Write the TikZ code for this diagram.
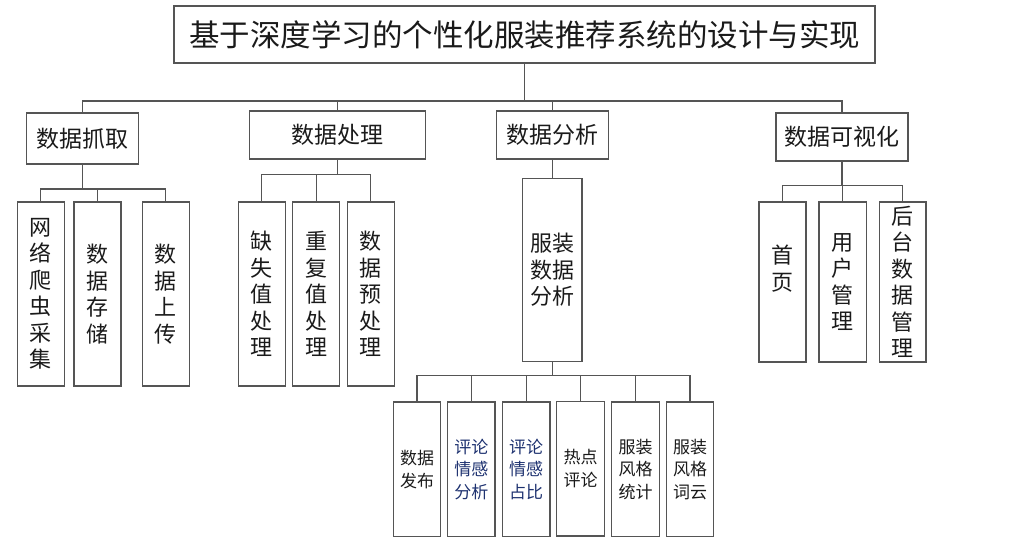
\documentclass[tikz,border=0pt]{standalone}
\usepackage{fontspec}
\setmainfont{Noto Sans CJK SC}
\definecolor{linec}{HTML}{555555}
\definecolor{navy}{HTML}{1E3270}
\definecolor{txt}{HTML}{1A1A1A}
\tikzset{
  box/.style={draw=linec, line width=1.2pt, inner sep=0pt, align=center, text=txt},
  ttl/.style={box, font=\fontsize{30.5}{34}\selectfont},
  lone/.style={box, font=\fontsize{23}{27}\selectfont},
  ltwo/.style={box, font=\fontsize{22}{26.5}\selectfont},
  lthree/.style={box, font=\fontsize{17}{22.5}\selectfont},
  conn/.style={draw=linec, line width=1.2pt},
}
\begin{document}
\begin{tikzpicture}[x=1pt,y=-1pt]
\useasboundingbox (0,0) rectangle (1028,552);
% title
\node[ttl, minimum width=701pt, minimum height=57pt] (title) at (524.5,34.5) {基于深度学习的个性化服装推荐系统的设计与实现};
% level 1
\node[lone, minimum width=112pt, minimum height=51pt] (a) at (82.3,138.5) {数据抓取};
\node[lone, minimum width=176pt, minimum height=48pt] (b) at (337.3,135) {数据处理};
\node[lone, minimum width=112pt, minimum height=48pt] (c) at (552.2,135) {数据分析};
\node[lone, minimum width=132pt, minimum height=48pt] (d) at (842,137) {数据可视化};
% level 2 under a
\node[ltwo, minimum width=47pt, minimum height=184pt] (a1) at (40.8,294) {网\\络\\爬\\虫\\采\\集};
\node[ltwo, minimum width=47pt, minimum height=184pt] (a2) at (97.4,294) {数\\据\\存\\储};
\node[ltwo, minimum width=47pt, minimum height=184pt] (a3) at (165.7,294) {数\\据\\上\\传};
% level 2 under b
\node[ltwo, minimum width=47pt, minimum height=184pt] (b1) at (261.7,294) {缺\\失\\值\\处\\理};
\node[ltwo, minimum width=47pt, minimum height=184pt] (b2) at (316.2,294) {重\\复\\值\\处\\理};
\node[ltwo, minimum width=47pt, minimum height=184pt] (b3) at (370.8,294) {数\\据\\预\\处\\理};
% level 2 under c
\node[ltwo, minimum width=59.7pt, minimum height=183.4pt] (c1) at (552.2,270) {服装\\数据\\分析};
% level 3 under c1
\node[lthree, minimum width=47.4pt, minimum height=134.5pt] (e1) at (417,469.3) {数据\\发布};
\node[lthree, minimum width=47.4pt, minimum height=134.5pt, text=navy] (e2) at (471.3,469.3) {评论\\情感\\分析};
\node[lthree, minimum width=47.4pt, minimum height=134.5pt, text=navy] (e3) at (526.2,469.3) {评论\\情感\\占比};
\node[lthree, minimum width=47.4pt, minimum height=134.5pt] (e4) at (580.5,468.7) {热点\\评论};
\node[lthree, minimum width=47.4pt, minimum height=134.5pt] (e5) at (635.5,469.3) {服装\\风格\\统计};
\node[lthree, minimum width=47.4pt, minimum height=134.5pt] (e6) at (690,469.3) {服装\\风格\\词云};
% level 2 under d
\node[ltwo, minimum width=47pt, minimum height=160pt] (d1) at (782.5,282) {首\\页\\\phantom{页}};
\node[ltwo, minimum width=47.7pt, minimum height=160pt] (d2) at (842.8,282) {用\\户\\管\\理};
\node[ltwo, minimum width=46.7pt, minimum height=160pt] (d3) at (902.7,282) {后\\台\\数\\据\\管\\理};
% bus coordinates
\coordinate (bus0) at (0,101);
\coordinate (busa) at (0,189);
\coordinate (busb) at (0,174.3);
\coordinate (busc) at (0,375.7);
\coordinate (busd) at (0,185.7);
% connectors
\foreach \n in {a,b,c,d}
  \draw[conn] (title.south) -- (title.south |- bus0) -| (\n.north);
\foreach \n in {a1,a2,a3}
  \draw[conn] (a.south) -- (a.south |- busa) -| (\n.north);
\foreach \n in {b1,b2,b3}
  \draw[conn] (b.south) -- (b.south |- busb) -| (\n.north);
\draw[conn] (c.south) -- (c1.north);
\foreach \n in {e1,e2,e3,e4,e5,e6}
  \draw[conn] (c1.south) -- (c1.south |- busc) -| (\n.north);
\foreach \n in {d1,d2,d3}
  \draw[conn] (d.south) -- (d.south |- busd) -| (\n.north);
\end{tikzpicture}
\end{document}
